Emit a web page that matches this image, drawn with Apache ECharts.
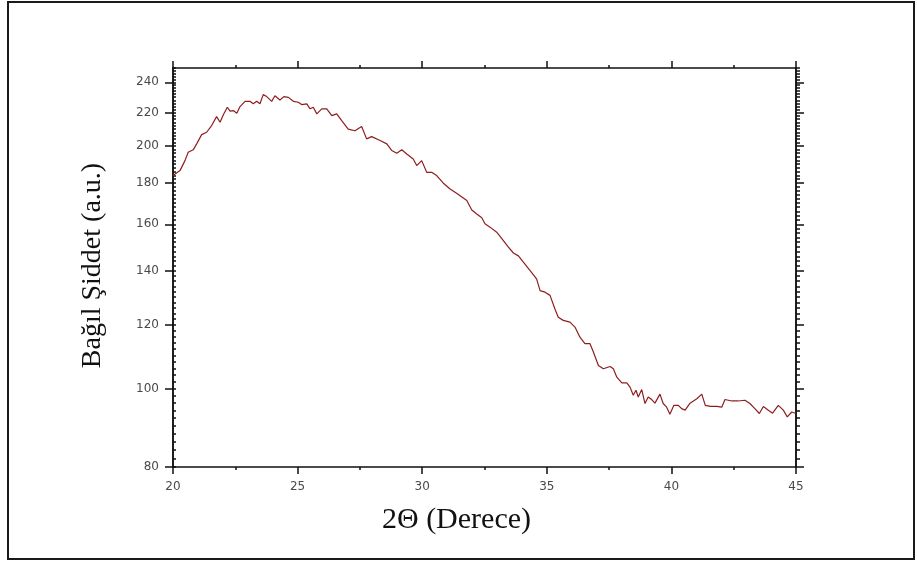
<!DOCTYPE html>
<html>
<head>
<meta charset="utf-8">
<script src="https://cdn.jsdelivr.net/npm/echarts@6/dist/echarts.min.js"></script>
<style>
  html, body { margin: 0; padding: 0; background: #fff; }
  #chart { width: 917px; height: 563px; }
</style>
</head>
<body>
<div id="chart"></div>
<script>
// ---- data ----
const xValues = [
  20.00, 20.28, 20.48, 20.61, 20.81, 20.95, 21.15, 21.35, 21.55, 21.75,
  21.89, 22.02, 22.18, 22.29, 22.42, 22.56, 22.69, 22.89, 23.09, 23.22,
  23.36, 23.49, 23.62, 23.76, 23.96, 24.09, 24.29, 24.45, 24.63, 24.83,
  25.03, 25.16, 25.37, 25.50, 25.63, 25.77, 25.97, 26.17, 26.37, 26.57,
  26.77, 27.03, 27.30, 27.57, 27.77, 27.97, 28.31, 28.58, 28.78, 28.98,
  29.18, 29.38, 29.64, 29.78, 29.98, 30.18, 30.38, 30.58, 30.85, 31.12,
  31.38, 31.65, 31.79, 31.99, 32.19, 32.39, 32.52, 32.72, 32.99, 33.25,
  33.45, 33.66, 33.86, 34.06, 34.33, 34.59, 34.73, 34.93, 35.13, 35.33,
  35.46, 35.66, 35.93, 36.13, 36.33, 36.53, 36.73, 36.87, 37.07, 37.27,
  37.54, 37.67, 37.81, 38.01, 38.21, 38.34, 38.47, 38.58, 38.67, 38.81,
  38.94, 39.07, 39.21, 39.34, 39.54, 39.67, 39.81, 39.94, 40.10, 40.28,
  40.41, 40.55, 40.75, 41.02, 41.22, 41.36, 41.56, 41.82, 42.02, 42.15,
  42.42, 42.68, 42.95, 43.15, 43.35, 43.53, 43.69, 43.89, 44.06, 44.29,
  44.49, 44.65, 44.83, 45.00
];
const intensity = [
  183.9, 186.5, 191.9, 196.5, 197.9, 201.3, 206.7, 208.1, 212.1, 217.6,
  214.1, 218.7, 223.5, 221.0, 221.4, 219.7, 223.9, 227.3, 227.3, 225.7,
  227.3, 225.7, 231.7, 230.4, 227.3, 231.0, 228.2, 230.4, 229.9, 227.3,
  226.7, 225.2, 225.7, 222.5, 223.5, 219.3, 222.5, 222.5, 218.2, 219.3,
  215.1, 210.0, 209.0, 211.5, 204.2, 205.5, 203.2, 201.3, 197.5, 196.0,
  197.9, 195.6, 192.8, 189.2, 191.9, 185.6, 185.6, 183.9, 179.9, 177.0,
  174.8, 172.5, 171.2, 166.7, 164.8, 163.0, 160.2, 158.7, 156.4, 152.8,
  150.0, 147.4, 146.2, 143.6, 140.2, 136.9, 132.4, 131.8, 130.6, 125.5,
  122.7, 121.6, 121.0, 119.3, 115.9, 113.8, 113.8, 111.1, 106.9, 105.9,
  106.6, 105.9, 103.4, 101.7, 101.7, 100.5, 98.2, 99.6, 97.7, 99.8,
  95.9, 97.7, 97.0, 96.0, 98.5, 95.9, 94.9, 93.0, 95.4, 95.4,
  94.5, 94.1, 96.0, 97.2, 98.5, 95.4, 95.1, 95.1, 94.9, 97.0,
  96.6, 96.6, 96.8, 95.9, 94.5, 93.2, 95.1, 94.1, 93.3, 95.4,
  94.1, 92.3, 93.6, 93.2
];
const yTickLabels = [80, 100, 120, 140, 160, 180, 200, 220, 240];
const yMin = 80, yMax = 250;
const xMin = 20, xMax = 45, xStep = 5;
const yMinorTicks = [];
for (let v = yMin; v <= yMax; v += 2) yMinorTicks.push(v);

const xTitle = '2\u0398 (Derece)';
const yTitle = 'Ba\u011f\u0131l \u015eiddet (a.u.)';

// ---- chart ----
const chart = echarts.init(document.getElementById('chart'), null, { renderer: 'canvas' });
const axisColor = '#111';
const labelStyle = { fontFamily: 'DejaVu Sans', fontSize: 12, color: '#4a4a4a' };

function xAx(pos, withLabel) {
  return {
    type: 'value', position: pos, min: xMin, max: xMax, interval: xStep,
    axisLine: { show: true, onZero: false, lineStyle: { color: axisColor, width: 1.5 } },
    axisTick: { show: true, inside: false, length: 7, lineStyle: { color: axisColor, width: 1.5 } },
    minorTick: { show: true, splitNumber: 2, length: 3, lineStyle: { color: axisColor, width: 1.5 } },
    splitLine: { show: false },
    minorSplitLine: { show: false },
    axisLabel: withLabel ? Object.assign({ show: true, margin: 14 }, labelStyle) : { show: false },
    name: withLabel ? xTitle : '',
    nameLocation: 'middle',
    nameGap: 38,
    nameTextStyle: { fontFamily: 'Liberation Serif', fontSize: 30, color: '#111', padding: [0, 56, 0, 0] }
  };
}
function yAx(pos, ticks, len, inside, withLabel) {
  return {
    type: 'log', logBase: 10, position: pos, min: yMin, max: yMax,
    axisLine: { show: true, onZero: false, lineStyle: { color: axisColor, width: 1.5 } },
    axisTick: { show: true, inside: inside, length: len, customValues: ticks, lineStyle: { color: axisColor, width: 1.5 } },
    splitLine: { show: false },
    minorTick: { show: false },
    axisLabel: withLabel
      ? Object.assign({ show: true, margin: 14, customValues: yTickLabels, formatter: v => String(Math.round(v)) }, labelStyle)
      : { show: false },
    name: withLabel ? yTitle : '',
    nameLocation: 'middle',
    nameRotate: 90,
    nameGap: 66,
    nameTextStyle: { fontFamily: 'Liberation Serif', fontSize: 28, color: '#111', padding: [0, 0, 0, 4] }
  };
}

chart.setOption({
  animation: false,
  backgroundColor: '#fff',
  grid: { left: 173, right: 121, top: 68, bottom: 96, containLabel: false },
  xAxis: [xAx('bottom', true), xAx('top', false)],
  yAxis: [
    yAx('left', yTickLabels, 8, false, true),
    yAx('left', yMinorTicks, 3, true, false),
    yAx('right', yTickLabels, 8, false, false),
    yAx('right', yMinorTicks, 4, false, false)
  ],
  graphic: [{
    type: 'rect', silent: true,
    shape: { x: 8, y: 2, width: 906, height: 557 },
    style: { fill: 'none', stroke: '#1a1a1a', lineWidth: 2 }
  }],
  series: [{
    type: 'line',
    xAxisIndex: 0, yAxisIndex: 0,
    showSymbol: false,
    data: xValues.map((x, i) => [x, intensity[i]]),
    lineStyle: { color: '#8e1f1f', width: 1.2 },
    itemStyle: { color: '#8e1f1f' }
  }]
});
</script>
</body>
</html>
